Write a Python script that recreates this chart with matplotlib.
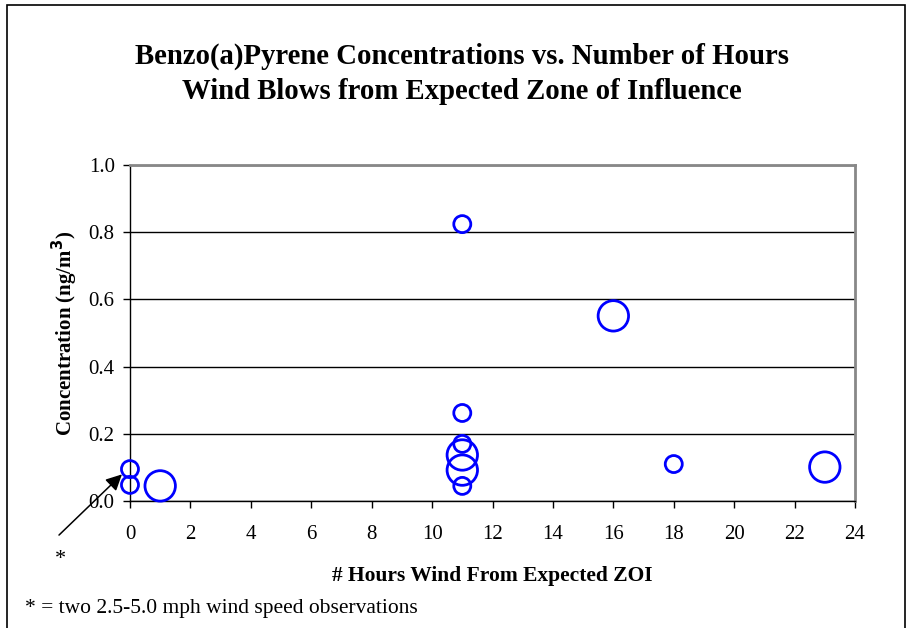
import matplotlib.pyplot as plt
from matplotlib.patches import Rectangle

plt.rcParams['font.family'] = ['Liberation Serif', 'DejaVu Serif']

# small circles = one kind of observation, large circles = the other
horas_peq = [0, 0, 11, 11, 11, 11, 18]
conc_peq = [0.095, 0.048, 0.824, 0.262, 0.170, 0.045, 0.110]
horas_gr = [1, 11, 11, 16, 23]
conc_gr = [0.045, 0.137, 0.092, 0.551, 0.101]

xticks = list(range(0, 25, 2))
yticks = [0.0, 0.2, 0.4, 0.6, 0.8, 1.0]

fig = plt.figure(figsize=(9.07, 6.28), dpi=100)
ax = fig.add_axes([0.1433, 0.2022, 0.7994, 0.5351])

ax.scatter(horas_peq, conc_peq, s=150, facecolors='none', edgecolors='#0000ff', linewidths=2, zorder=3, clip_on=False)
ax.scatter(horas_gr, conc_gr, s=480, facecolors='none', edgecolors='#0000ff', linewidths=2, zorder=3, clip_on=False)

ax.set_xlim(0, 24)
ax.set_ylim(0, 1.0)
ax.set_xticks(xticks)
ax.set_yticks(yticks)
ax.set_yticklabels([f'{v:.1f}' for v in yticks])
ax.tick_params(labelsize=15, direction='out', length=5, width=1)
ax.tick_params(axis='x', pad=12)
ax.tick_params(axis='y', pad=6)
ax.grid(axis='y', color='black', linewidth=1)
ax.set_axisbelow(True)

for lado in ['top', 'right']:
    ax.spines[lado].set_color('#888888')
    ax.spines[lado].set_linewidth(2)
for lado in ['left', 'bottom']:
    ax.spines[lado].set_color('black')
    ax.spines[lado].set_linewidth(1)

ax.set_xlabel('# Hours Wind From Expected ZOI', fontsize=15.5, fontweight='bold', labelpad=16)
ax.set_ylabel('Concentration (ng/m$^\\mathbf{3}$)', fontsize=15, fontweight='bold', labelpad=6)

fig.text(0.509, 0.911, 'Benzo(a)Pyrene Concentrations vs. Number of Hours', fontsize=20.7,
         fontweight='bold', ha='center', va='center')
fig.text(0.509, 0.854, 'Wind Blows from Expected Zone of Influence', fontsize=20.7,
         fontweight='bold', ha='center', va='center')

# seta para o ponto em x=0
ax.annotate('', xy=(-0.2, 0.085), xycoords='data',
            xytext=(57 / 907, 1 - 537 / 628), textcoords='figure fraction',
            arrowprops=dict(arrowstyle='-|>', color='black', lw=1.1, mutation_scale=24),
            annotation_clip=False)
fig.text(60 / 907, 1 - 560 / 628, '*', fontsize=16, ha='center', va='center')

fig.text(25 / 907, 1 - 609 / 628, '* = two 2.5-5.0 mph wind speed observations', fontsize=15.5,
         ha='left', va='center')

fig.patches.append(Rectangle((7 / 907, -0.01), 898 / 907, 1 - 5 / 628 + 0.01, transform=fig.transFigure,
                             fill=False, edgecolor='black', linewidth=1.2))

plt.savefig('out.png', dpi=100)
